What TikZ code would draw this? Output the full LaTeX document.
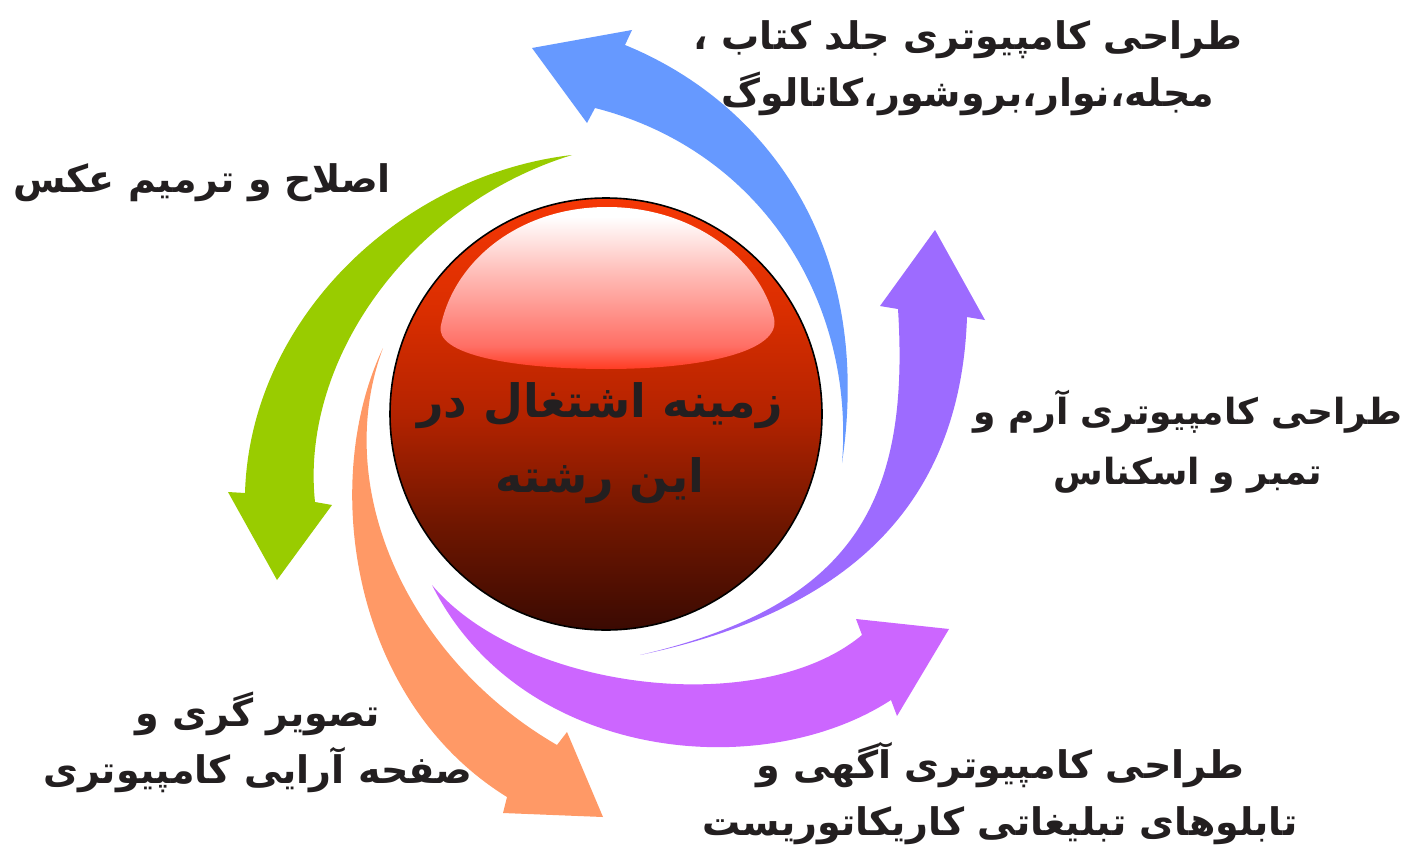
\documentclass[tikz,border=0pt]{standalone}
\usepackage{fontspec}
\TeXXeTstate=1
\newfontfamily\arabicfont[Script=Arabic]{DejaVu Sans}
\newcommand{\RLline}[1]{\beginR #1\endR}
\definecolor{txt}{RGB}{35,31,32}
\definecolor{cblue}{RGB}{102,153,255}
\definecolor{cviolet}{RGB}{157,107,255}
\definecolor{cmagenta}{RGB}{204,102,255}
\definecolor{corange}{RGB}{255,153,102}
\definecolor{cgreen}{RGB}{153,204,0}
\definecolor{sphA}{RGB}{58,10,2}
\definecolor{sphB}{RGB}{110,22,0}
\definecolor{sphC}{RGB}{180,35,0}
\definecolor{sphD}{RGB}{218,46,0}
\definecolor{sphE}{RGB}{245,55,5}
\definecolor{hlA}{RGB}{255,60,35}
\definecolor{hlB}{RGB}{255,110,100}
\definecolor{hlC}{RGB}{255,190,185}
\pgfdeclareverticalshading{sphsh}{100bp}{color(0bp)=(sphA); color(25bp)=(sphA); color(37bp)=(sphB); color(50bp)=(sphC); color(62bp)=(sphD); color(75bp)=(sphE); color(100bp)=(sphE)}
\pgfdeclareverticalshading{hlsh}{100bp}{color(0bp)=(hlA); color(25bp)=(hlA); color(32bp)=(hlB); color(55bp)=(hlC); color(72bp)=(white); color(100bp)=(white)}
\begin{document}
\begin{tikzpicture}[x=1pt,y=-1pt,
  lbl/.style={font=\arabicfont\bfseries\fontsize{38}{57}\selectfont, text=txt, align=center, inner sep=0pt},
  lblsm/.style={lbl, font=\arabicfont\bfseries\fontsize{36}{60}\selectfont},
  ctr/.style={font=\arabicfont\bfseries\fontsize{46}{75}\selectfont, text=txt, align=center, inner sep=0pt}]
\useasboundingbox (0,0) rectangle (1407,851);
\fill[white] (0,0) rectangle (1407,851);

% blue arrow
\fill[cblue] (625,45) .. controls (760,100) and (875,240) .. (842,463)
  .. controls (855,300) and (760,150) .. (595,108)
  -- (587,123) -- (532,48) -- (632,30) -- cycle;

% violet arrow
\fill[cviolet] (640,655) .. controls (830,615) and (960,520) .. (967,317)
  -- (985,320) -- (935,230) -- (880,306) -- (898,309)
  .. controls (910,500) and (855,605) .. (640,655) -- cycle;

% magenta arrow
\fill[cmagenta] (432,585) .. controls (520,690) and (760,720) .. (862,635)
  -- (856,619) -- (949,629) -- (897,716) -- (891,700)
  .. controls (760,785) and (520,760) .. (432,585) -- cycle;

% orange arrow
\fill[corange] (383,348) .. controls (320,480) and (350,700) .. (507,797)
  -- (503,813) -- (603,817) -- (567,732) -- (557,745)
  .. controls (410,660) and (330,490) .. (383,348) -- cycle;

% green arrow
\fill[cgreen] (572,155) .. controls (400,175) and (250,320) .. (245,493)
  -- (228,492) -- (277,580) -- (332,505) -- (315,502)
  .. controls (300,360) and (410,205) .. (572,155) -- cycle;

% sphere
\shade[shading=sphsh] (606,414) circle[radius=216];
\shade[shading=hlsh] (441,325) .. controls (455,260) and (520,207) .. (607,207) .. controls (694,207) and (760,260) .. (774,318) .. controls (782,352) and (700,369) .. (607,369) .. controls (515,369) and (433,355) .. (441,325) -- cycle;
\draw[black, line width=1.6pt] (606,414) circle[radius=216];

\node[ctr] (center) at (600,443) {\RLline{زمینه اشتغال در}\\\RLline{این رشته}};

\node[lbl] (l1) at (968,68) {\RLline{طراحی کامپیوتری جلد کتاب ،}\\\RLline{مجله،نوار،بروشور،کاتالوگ}};
\node[lblsm] (l2) at (1188,442) {\RLline{طراحی کامپیوتری آرم و}\\\RLline{تمبر و اسکناس}};
\node[lbl] (l3) at (1000,793) {\RLline{طراحی کامپیوتری آگهی و}\\\RLline{تابلوهای تبلیغاتی کاریکاتوریست}};
\node[lbl] (l4) at (258,742) {\RLline{تصویر گری و}\\\RLline{صفحه آرایی کامپیوتری}};
\node[lbl] (l5) at (202,183) {\RLline{اصلاح و ترمیم عکس}};
\end{tikzpicture}
\end{document}
